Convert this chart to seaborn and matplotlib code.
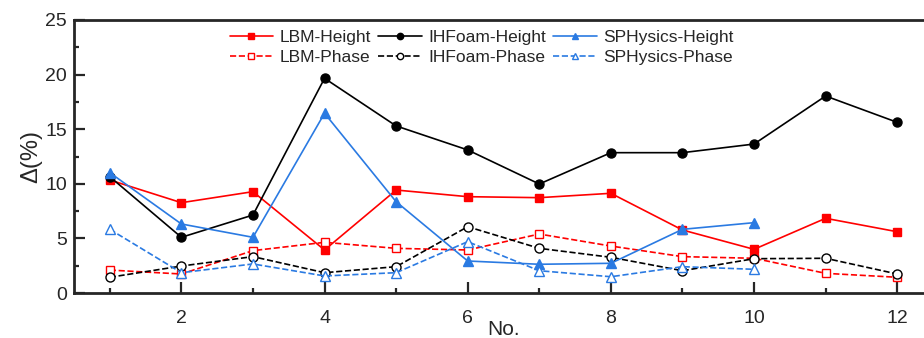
import matplotlib
matplotlib.use("Agg")
import matplotlib.pyplot as plt
import seaborn as sns
import pandas as pd

case_no = [1, 2, 3, 4, 5, 6, 7, 8, 9, 10, 11, 12]
lbm_height = [10.35, 8.27, 9.28, 3.94, 9.43, 8.82, 8.73, 9.13, 5.77, 4.0, 6.84, 5.61]
ihfoam_height = [10.65, 5.1, 7.14, 19.66, 15.3, 13.1, 9.98, 12.85, 12.85, 13.64, 18.04, 15.63]
sph_height = [11.02, 6.32, 5.1, 16.46, 8.36, 2.93, 2.63, 2.72, 5.83, 6.44]
lbm_phase = [2.1, 1.74, 3.88, 4.64, 4.09, 3.94, 5.4, 4.3, 3.33, 3.18, 1.8, 1.44]
ihfoam_phase = [1.44, 2.47, 3.33, 1.86, 2.41, 6.07, 4.09, 3.27, 2.04, 3.14, 3.18, 1.74]
sph_phase = [5.83, 1.86, 2.66, 1.56, 1.86, 4.7, 2.04, 1.49, 2.41, 2.17]

sns.set_style("ticks")
plt.rcParams['font.family'] = ['Liberation Sans', 'DejaVu Sans']

fig = plt.figure(figsize=(9.24, 3.38), dpi=100)
ax = fig.add_axes([74/924, (338-293)/338, (933-74)/924, (293-20)/338])

red = "#ff0000"
black = "#000000"
blue = "#2a7ae2"

series = [
    ("LBM-Height", lbm_height, red, "s", "-", True),
    ("LBM-Phase", lbm_phase, red, "s", "--", False),
    ("IHFoam-Height", ihfoam_height, black, "o", "-", True),
    ("IHFoam-Phase", ihfoam_phase, black, "o", "--", False),
    ("SPHysics-Height", sph_height, blue, "^", "-", True),
    ("SPHysics-Phase", sph_phase, blue, "^", "--", False),
]

for name, vals, col, mk, ls, filled in series:
    df = pd.DataFrame({"No.": case_no[:len(vals)], "val": vals})
    sns.lineplot(data=df, x="No.", y="val", ax=ax, color=col, marker=mk,
                 linestyle=ls, linewidth=1.2, markersize=6.5 if mk != "s" else 6,
                 markerfacecolor=col if filled else "white",
                 markeredgecolor=col, markeredgewidth=1.0,
                 label=name, dashes=(5, 3.5) if ls == "--" else "")

ax.set_xlim(0.5, 12.5)
ax.set_ylim(0, 25)
ax.set_xticks([2, 4, 6, 8, 10, 12])
ax.set_xticks([1, 3, 5, 7, 9, 11], minor=True)
ax.set_yticks([0, 5, 10, 15, 20, 25])
ax.set_yticks([2.5, 7.5, 12.5, 17.5, 22.5], minor=True)
ax.tick_params(axis="both", which="major", direction="in", length=8, width=1.6,
               labelsize=14)
ax.tick_params(axis="x", which="major", pad=12)
ax.tick_params(axis="y", which="major", pad=5)
ax.tick_params(axis="both", which="minor", direction="in", length=3.5, width=1.6)
for s in ax.spines.values():
    s.set_linewidth(2)

ax.set_xlabel("No.", fontsize=15, labelpad=-5)
ax.set_ylabel("Δ(%)", fontsize=17, labelpad=2)

leg = ax.legend(loc="upper left", bbox_to_anchor=(146/859, 1.0), ncol=3,
                frameon=False, fontsize=12.5, handlelength=2.5,
                columnspacing=0.4, handletextpad=0.4, labelspacing=0.3,
                markerscale=0.7, borderaxespad=0.15)

fig.savefig("out.png", dpi=100)
